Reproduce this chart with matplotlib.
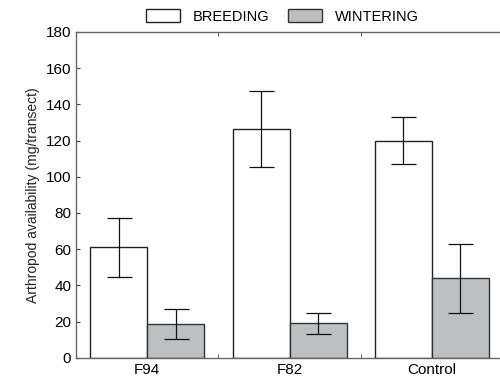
import matplotlib.pyplot as plt
import numpy as np

plt.rcParams['font.family'] = ['Liberation Sans', 'DejaVu Sans']

# data
sites = ['F94', 'F82', 'Control']
breeding = [61, 126.5, 120]
breeding_err = [16.3, 21, 13]
wintering = [18.5, 19, 44]
wintering_err = [8.3, 5.7, 19]

fig = plt.figure(figsize=(5, 3.84), dpi=100)
ax = fig.add_axes([0.152, 0.068, 0.86, 0.849])

x = np.arange(len(sites))
w = 0.4
ax.bar(x - w / 2, breeding, w, yerr=breeding_err, color='white', edgecolor='#222222',
       linewidth=1.0, capsize=9, error_kw=dict(elinewidth=0.9, capthick=0.9, ecolor='#111111'),
       label='BREEDING')
ax.bar(x + w / 2, wintering, w, yerr=wintering_err, color='#bebfc1', edgecolor='#333333',
       linewidth=1.0, capsize=9, error_kw=dict(elinewidth=0.9, capthick=0.9, ecolor='#111111'),
       label='WINTERING')

ax.set_xlim(-0.5, 2.52)
ax.set_ylim(0, 180)
ax.set_yticks(np.arange(0, 181, 20))
ax.set_xticks(x)
ax.set_xticklabels(sites)
ax.set_xticks([0.5, 1.5], minor=True)
ax.tick_params(axis='x', which='major', length=0, labelsize=11, pad=4)
ax.tick_params(axis='x', which='minor', direction='in', length=3, top=True, color='#444444')
ax.tick_params(axis='y', direction='in', length=3, labelsize=11, color='#444444')
for s in ax.spines.values():
    s.set_color('#666666')
    s.set_linewidth(1.0)

ax.set_ylabel('Arthropod availability (mg/transect)', fontsize=10, color='#222222')

fig.legend(loc='upper center', bbox_to_anchor=(0.565, 1.01), ncol=2, frameon=False,
           fontsize=10.5, handlelength=2.3, handleheight=1.0, handletextpad=0.9,
           columnspacing=1.3)

plt.savefig('out.png')
